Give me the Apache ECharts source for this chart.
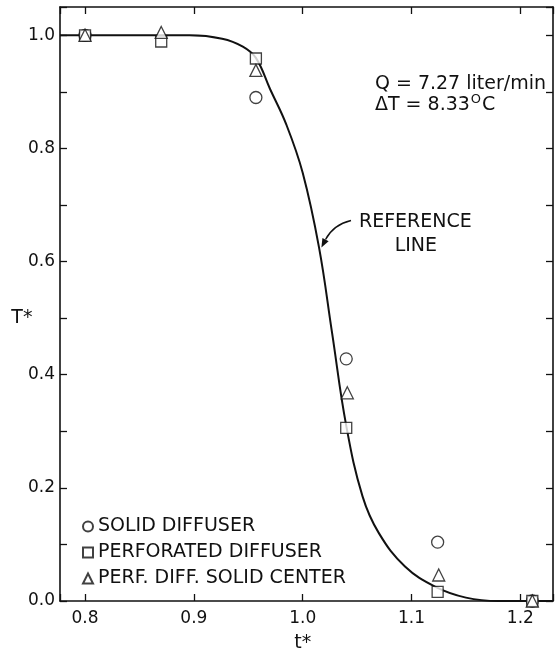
<!DOCTYPE html>
<html>
<head>
<meta charset="utf-8">
<script src="https://cdn.jsdelivr.net/npm/echarts@6/dist/echarts.min.js"></script>
<style>
    html, body { margin: 0; padding: 0; background: #fff; }
    #chart { width: 556px; height: 658px; }
</style>
</head>
<body>
<div id="chart"></div>
<script>
// axis ranges
const xRange = [0.777, 1.23];
const yRange = [0, 1.05];

// reference line
const refLineX = [0.777, 0.896, 0.926, 0.945, 0.957, 0.97, 0.985, 1.0, 1.015, 1.027, 1.04, 1.055, 1.07, 1.094, 1.122, 1.15, 1.18, 1.23];
const refLineY = [1.0, 1.0, 0.994, 0.98, 0.96, 0.905, 0.842, 0.757, 0.625, 0.474, 0.31, 0.185, 0.12, 0.061, 0.025, 0.006, 0.0, 0.0];

// measured points
const solidX = [0.8, 0.957, 1.04, 1.124, 1.211];
const solidY = [1.0, 0.89, 0.428, 0.104, 0.0];
const perforatedX = [0.8, 0.87, 0.957, 1.04, 1.124, 1.211];
const perforatedY = [1.0, 0.989, 0.959, 0.306, 0.016, 0.0];
const solidCenterX = [0.8, 0.87, 0.957, 1.041, 1.125, 1.211];
const solidCenterY = [1.0, 1.005, 0.938, 0.368, 0.046, 0.0];

const seriesNames = ['SOLID DIFFUSER', 'PERFORATED DIFFUSER', 'PERF. DIFF. SOLID CENTER'];
const xTickLabels = ['0.8', '0.9', '1.0', '1.1', '1.2'];
const yTickLabels = ['0.0', '0.2', '0.4', '0.6', '0.8', '1.0'];

const FONT = 'DejaVu Sans';
const INK = '#111';

function zip(xs, ys) {
    return xs.map((x, i) => [x, ys[i]]);
}

function pickLabel(labels, value) {
    const text = Number(value).toFixed(1);
    const close = Math.abs(value - Number(text)) < 1e-6;
    return close && labels.includes(text) ? text : '';
}

function axisBase(position, showLabels) {
    return {
        type: 'value',
        position: position,
        axisLine: { show: true, onZero: false, lineStyle: { color: INK, width: 1.6 } },
        axisTick: { show: true, inside: true, length: 7, lineStyle: { color: INK, width: 1.3 } },
        splitLine: { show: false },
        axisLabel: {
            show: showLabels,
            color: INK,
            fontFamily: FONT,
            fontSize: 17,
        },
    };
}

const chart = echarts.init(document.getElementById('chart'), null, { renderer: 'canvas' });

const markerStyle = { color: '#fff', borderColor: INK, borderWidth: 1.3 };

chart.setOption({
    animation: false,
    backgroundColor: '#fff',
    grid: { left: 60, right: 1, top: 7, bottom: 57 },
    xAxis: [
        Object.assign(axisBase('bottom', true), {
            min: xRange[0],
            max: xRange[1],
            axisLabel: Object.assign(axisBase('bottom', true).axisLabel, {
                margin: 9,
                formatter: (v) => pickLabel(xTickLabels, v),
            }),
        }),
        Object.assign(axisBase('top', false), { min: xRange[0], max: xRange[1] }),
    ],
    yAxis: [
        Object.assign(axisBase('left', true), {
            min: yRange[0],
            max: yRange[1],
            interval: 0.1,
            axisLabel: Object.assign(axisBase('left', true).axisLabel, {
                margin: 5,
                formatter: (v) => pickLabel(yTickLabels, v),
            }),
        }),
        Object.assign(axisBase('right', false), { min: yRange[0], max: yRange[1], interval: 0.1 }),
    ],
    legend: {
        data: seriesNames,
        orient: 'vertical',
        left: 77,
        top: 512,
        itemWidth: 10,
        itemHeight: 10,
        itemGap: 7,
        selectedMode: false,
        textStyle: { color: INK, fontFamily: FONT, fontSize: 19 },
    },
    series: [
        {
            name: 'REFERENCE LINE',
            type: 'line',
            data: zip(refLineX, refLineY),
            smooth: 0.4,
            showSymbol: false,
            lineStyle: { color: INK, width: 2 },
            z: 2,
        },
        {
            name: seriesNames[0],
            type: 'scatter',
            symbol: 'circle',
            symbolSize: 12,
            data: zip(solidX, solidY),
            itemStyle: markerStyle,
            z: 3,
        },
        {
            name: seriesNames[1],
            type: 'scatter',
            symbol: 'rect',
            symbolSize: 11,
            data: zip(perforatedX, perforatedY),
            itemStyle: markerStyle,
            z: 3,
        },
        {
            name: seriesNames[2],
            type: 'scatter',
            symbol: 'triangle',
            symbolSize: 12,
            data: zip(solidCenterX, solidCenterY),
            itemStyle: markerStyle,
            z: 3,
        },
    ],
});

// annotations, anchored through the axes
const toPx = (x, y) => chart.convertToPixel({ xAxisIndex: 0, yAxisIndex: 0 }, [x, y]);

const textStyle = (text, extra) => Object.assign({
    text: text,
    fill: INK,
    fontFamily: FONT,
    fontSize: 19,
}, extra || {});

const qPos = toPx(1.0664, 0.913);
const dtPos = toPx(1.0664, 0.876);
const refPos = toPx(1.0517, 0.669);
const linePos = toPx(1.104, 0.627);
const arrowStart = toPx(1.0444, 0.6726);
const arrowCtrl = toPx(1.028, 0.665);
const arrowTip = toPx(1.0172, 0.6248);
const xNamePos = toPx(1.0, -0.074);
const yNamePos = toPx(0.742, 0.5);

const dx = arrowTip[0] - arrowCtrl[0];
const dy = arrowTip[1] - arrowCtrl[1];
const len = Math.sqrt(dx * dx + dy * dy);
const ux = dx / len;
const uy = dy / len;
const headLen = 9;
const headHalf = 3.5;
const headBase = [arrowTip[0] - ux * headLen, arrowTip[1] - uy * headLen];

chart.setOption({
    graphic: [
        { type: 'text', x: qPos[0], y: qPos[1], style: textStyle('Q = 7.27 liter/min', { verticalAlign: 'middle' }) },
        {
            type: 'text',
            x: dtPos[0],
            y: dtPos[1],
            style: textStyle('ΔT = 8.33{sup|O}C', {
                verticalAlign: 'middle',
                rich: { sup: { fontFamily: FONT, fontSize: 13, fill: INK, padding: [0, 1, 12, 1] } },
            }),
        },
        { type: 'text', x: refPos[0], y: refPos[1], style: textStyle('REFERENCE', { verticalAlign: 'middle' }) },
        { type: 'text', x: linePos[0], y: linePos[1], style: textStyle('LINE', { align: 'center', verticalAlign: 'middle' }) },
        {
            type: 'bezierCurve',
            shape: {
                x1: arrowStart[0], y1: arrowStart[1],
                cpx1: arrowCtrl[0], cpy1: arrowCtrl[1],
                x2: headBase[0], y2: headBase[1],
            },
            style: { stroke: INK, lineWidth: 1.4, fill: null },
        },
        {
            type: 'polygon',
            shape: {
                points: [
                    arrowTip,
                    [headBase[0] - uy * headHalf, headBase[1] + ux * headHalf],
                    [headBase[0] + uy * headHalf, headBase[1] - ux * headHalf],
                ],
            },
            style: { fill: INK },
        },
        { type: 'text', x: xNamePos[0], y: xNamePos[1], style: textStyle('t*', { align: 'center', verticalAlign: 'middle' }) },
        { type: 'text', x: yNamePos[0], y: yNamePos[1], style: textStyle('T*', { align: 'center', verticalAlign: 'middle' }) },
    ],
});
</script>
</body>
</html>
